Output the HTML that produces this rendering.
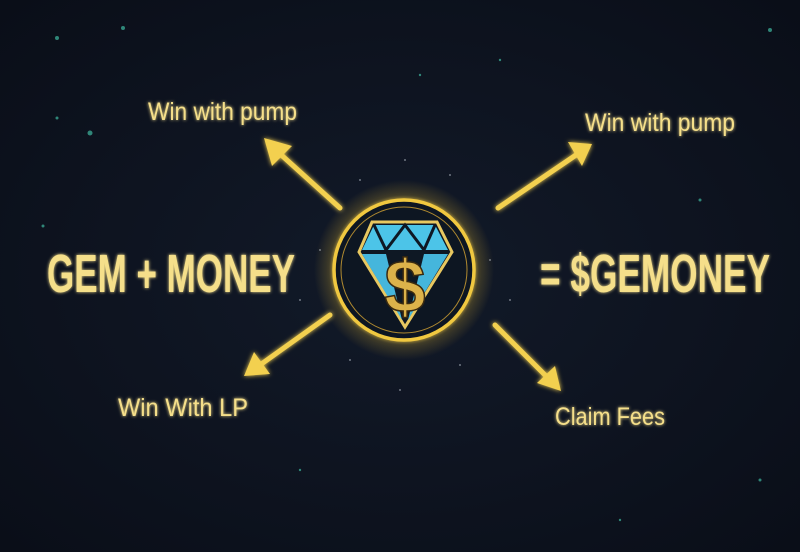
<!DOCTYPE html>
<html><head><meta charset="utf-8"><style>
html,body{margin:0;padding:0;background:#0b111c;}
svg{display:block}
text{font-family:"Liberation Sans",sans-serif;fill:#f5df8a;}
</style></head><body>
<svg width="800" height="552" viewBox="0 0 800 552">
<defs>
<radialGradient id="bg" cx="50%" cy="50%" r="70%">
<stop offset="0" stop-color="#121a29"/><stop offset="1" stop-color="#0a0e18"/>
</radialGradient>
<filter id="glow" x="-50%" y="-50%" width="200%" height="200%">
<feGaussianBlur stdDeviation="2.5" result="b"/><feMerge><feMergeNode in="b"/><feMergeNode in="SourceGraphic"/></feMerge>
</filter>
<filter id="tglow" x="-20%" y="-50%" width="140%" height="200%">
<feGaussianBlur stdDeviation="1.5" result="b"/><feMerge><feMergeNode in="b"/><feMergeNode in="SourceGraphic"/></feMerge>
</filter>
<radialGradient id="halo" cx="50%" cy="50%" r="50%">
<stop offset="0.6" stop-color="#2a2a20" stop-opacity="0"/><stop offset="0.85" stop-color="#d9b030" stop-opacity="0.2"/><stop offset="1" stop-color="#d9b030" stop-opacity="0"/>
</radialGradient>
</defs>
<rect width="800" height="552" fill="url(#bg)"/>
<g fill="#3fb8a0" opacity="0.7">
<circle cx="90" cy="133" r="2.5"/><circle cx="123" cy="28" r="2"/><circle cx="57" cy="38" r="2"/><circle cx="57" cy="118" r="1.5"/><circle cx="770" cy="30" r="2"/><circle cx="700" cy="200" r="1.5"/><circle cx="43" cy="226" r="1.5"/><circle cx="760" cy="480" r="1.5"/><circle cx="420" cy="75" r="1.2"/><circle cx="500" cy="60" r="1.2"/><circle cx="300" cy="470" r="1.2"/><circle cx="620" cy="520" r="1.2"/>
</g>
<g fill="#cfd6e0" opacity="0.5">
<circle cx="360" cy="180" r="1"/><circle cx="450" cy="175" r="1"/><circle cx="320" cy="250" r="1"/><circle cx="490" cy="260" r="1"/><circle cx="350" cy="360" r="1"/><circle cx="460" cy="365" r="1"/><circle cx="300" cy="300" r="1"/><circle cx="510" cy="300" r="1"/><circle cx="400" cy="390" r="1"/><circle cx="405" cy="160" r="1"/>
</g>
<circle cx="404" cy="270" r="90" fill="url(#halo)"/>
<g stroke="#f3d050" stroke-width="5" fill="#f3d050" filter="url(#glow)" stroke-linecap="round">
<line x1="340" y1="208" x2="278" y2="152"/>
<polygon points="264,138 292,146 272,166" stroke="none"/>
<line x1="498" y1="208" x2="576" y2="155"/>
<polygon points="592,144 568,142 582,166" stroke="none"/>
<line x1="330" y1="315" x2="260" y2="365"/>
<polygon points="244,376 254,352 270,374" stroke="none"/>
<line x1="495" y1="325" x2="548" y2="378"/>
<polygon points="561,391 537,383 555,366" stroke="none"/>
</g>
<circle cx="404" cy="270" r="70" fill="#0d1420" stroke="#f0c840" stroke-width="3.5" filter="url(#glow)"/>
<circle cx="404" cy="270" r="63" fill="none" stroke="#b08a30" stroke-width="1"/>
<g>
<polygon points="372,222 437,222 452,252 405,327 359,252" fill="#0e1824" stroke="#e8c860" stroke-width="3"/>
<polygon points="374,225 435,225 448,250 362,250" fill="#4cc4e8"/>
<polygon points="362,254 386,254 402,320" fill="#45b6dc"/>
<polygon points="448,254 424,254 408,320" fill="#45b6dc"/>
<polyline points="374,225 386,250 405,225 424,250 435,225" fill="none" stroke="#0e1824" stroke-width="3"/>
<text x="405" y="312" text-anchor="middle" font-size="74" font-weight="bold" style="fill:#dcb24a" stroke="#3a2a10" stroke-width="1.5">$</text>
</g>
<g filter="url(#tglow)">
<text x="148" y="120" font-size="25" textLength="149" lengthAdjust="spacingAndGlyphs">Win with pump</text>
<text x="585" y="131" font-size="25" textLength="150" lengthAdjust="spacingAndGlyphs">Win with pump</text>
<text x="47" y="292" font-size="54" font-weight="bold" textLength="248" lengthAdjust="spacingAndGlyphs">GEM + MONEY</text>
<text x="540" y="292" font-size="54" font-weight="bold" textLength="230" lengthAdjust="spacingAndGlyphs">= $GEMONEY</text>
<text x="118" y="416" font-size="25" textLength="130" lengthAdjust="spacingAndGlyphs">Win With LP</text>
<text x="555" y="425" font-size="25" textLength="110" lengthAdjust="spacingAndGlyphs">Claim Fees</text>
</g>
</svg>
</body></html>
